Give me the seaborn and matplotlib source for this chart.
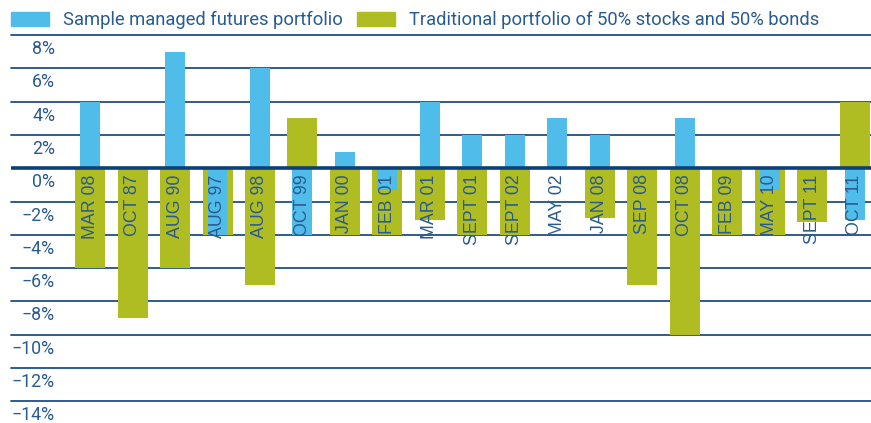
import matplotlib
matplotlib.use('Agg')
import matplotlib.pyplot as plt
import matplotlib.transforms as mtransforms
from matplotlib.patches import Patch
import seaborn as sns
import pandas as pd

periods = ["MAR 08", "OCT 87", "AUG 90", "AUG 97", "AUG 98", "OCT 99", "JAN 00",
           "FEB 01", "MAR 01", "SEPT 01", "SEPT 02", "MAY 02", "JAN 08", "SEP 08",
           "OCT 08", "FEB 09", "MAY 10", "SEPT 11", "OCT 11"]
futures = [4.0, 0.0, 7.0, -4.0, 6.0, -4.0, 1.0, -1.3, 4.0, 2.0, 2.0, 3.0, 2.0,
           0.0, 3.0, 0.0, -1.3, 0.0, -3.1]
traditional = [-6.0, -9.0, -6.0, -4.0, -7.0, 3.0, -4.0, -4.0, -3.1, -4.0, -4.0, 0.0,
               -3.0, -7.0, -10.0, -4.0, -4.0, -3.2, 4.0]
ticks = [8, 6, 4, 2, 0, -2, -4, -6, -8, -10, -12, -14]
tick_labels = [f"{t}%".replace("-", "\u2212") for t in ticks]
legend_labels = ["Sample managed futures portfolio",
                 "Traditional portfolio of 50% stocks and 50% bonds"]

BLUE = "#4fbce9"
OLIVE = "#afbc22"
TEXT = "#2a5b8f"
GRID = "#1e4f85"
ZERO = "#0d3f77"

sns.set_style("white")
plt.rcParams['font.family'] = ['Roboto', 'DejaVu Sans']

df = pd.DataFrame({"period": periods, "futures": futures, "traditional": traditional})

fig = plt.figure(figsize=(8.71, 4.23), dpi=100)
ax = fig.add_axes([11 / 871, 0, 860 / 871, 388 / 423])

# gridlines behind the bars
for t in ticks:
    if t != 0:
        ax.axhline(t, color=GRID, lw=1.3, zorder=0, clip_on=False)

sns.barplot(data=df, x="period", y="traditional", color=OLIVE, width=0.706,
            saturation=1, ax=ax, zorder=2, edgecolor="none", linewidth=0)
sns.barplot(data=df, x="period", y="futures", color=BLUE, width=0.47,
            saturation=1, ax=ax, zorder=3, edgecolor="none", linewidth=0)

ax.axhline(0, color=ZERO, lw=2.6, zorder=5)

# period names written down inside the bars
for i, p in enumerate(periods):
    ax.annotate(p, xy=(i, 0), xytext=(0, -4.5), textcoords="offset points",
                rotation=90, ha="center", va="top", color=TEXT, fontsize=12.8,
                family="Liberation Sans", zorder=6)

ax.set_xlim(-1.86, 18.38)
ax.set_ylim(-15.3, 8)
ax.set_xticks([])
ax.set_xlabel("")
ax.set_ylabel("")
ax.set_yticks(ticks)
ax.set_yticklabels(tick_labels)
ax.tick_params(axis="y", length=0, pad=-31.7, labelsize=12.8, labelcolor=TEXT)
offset = mtransforms.ScaledTranslation(0, -5 / 100, fig.dpi_scale_trans)
for lab in ax.get_yticklabels():
    lab.set_va("top")
    lab.set_transform(lab.get_transform() + offset)
sns.despine(ax=ax, left=True, bottom=True)

handles = [Patch(color=BLUE, label=legend_labels[0]),
           Patch(color=OLIVE, label=legend_labels[1])]
fig.legend(handles=handles, loc="upper left", bbox_to_anchor=(11 / 871, 1 - 11 / 423),
           ncol=2, frameon=False, fontsize=13.2, handlelength=2.07, handleheight=0.82,
           handletextpad=0.77, columnspacing=0.77, borderaxespad=0, borderpad=0,
           labelcolor=TEXT)

fig.savefig("out.png", dpi=100)
